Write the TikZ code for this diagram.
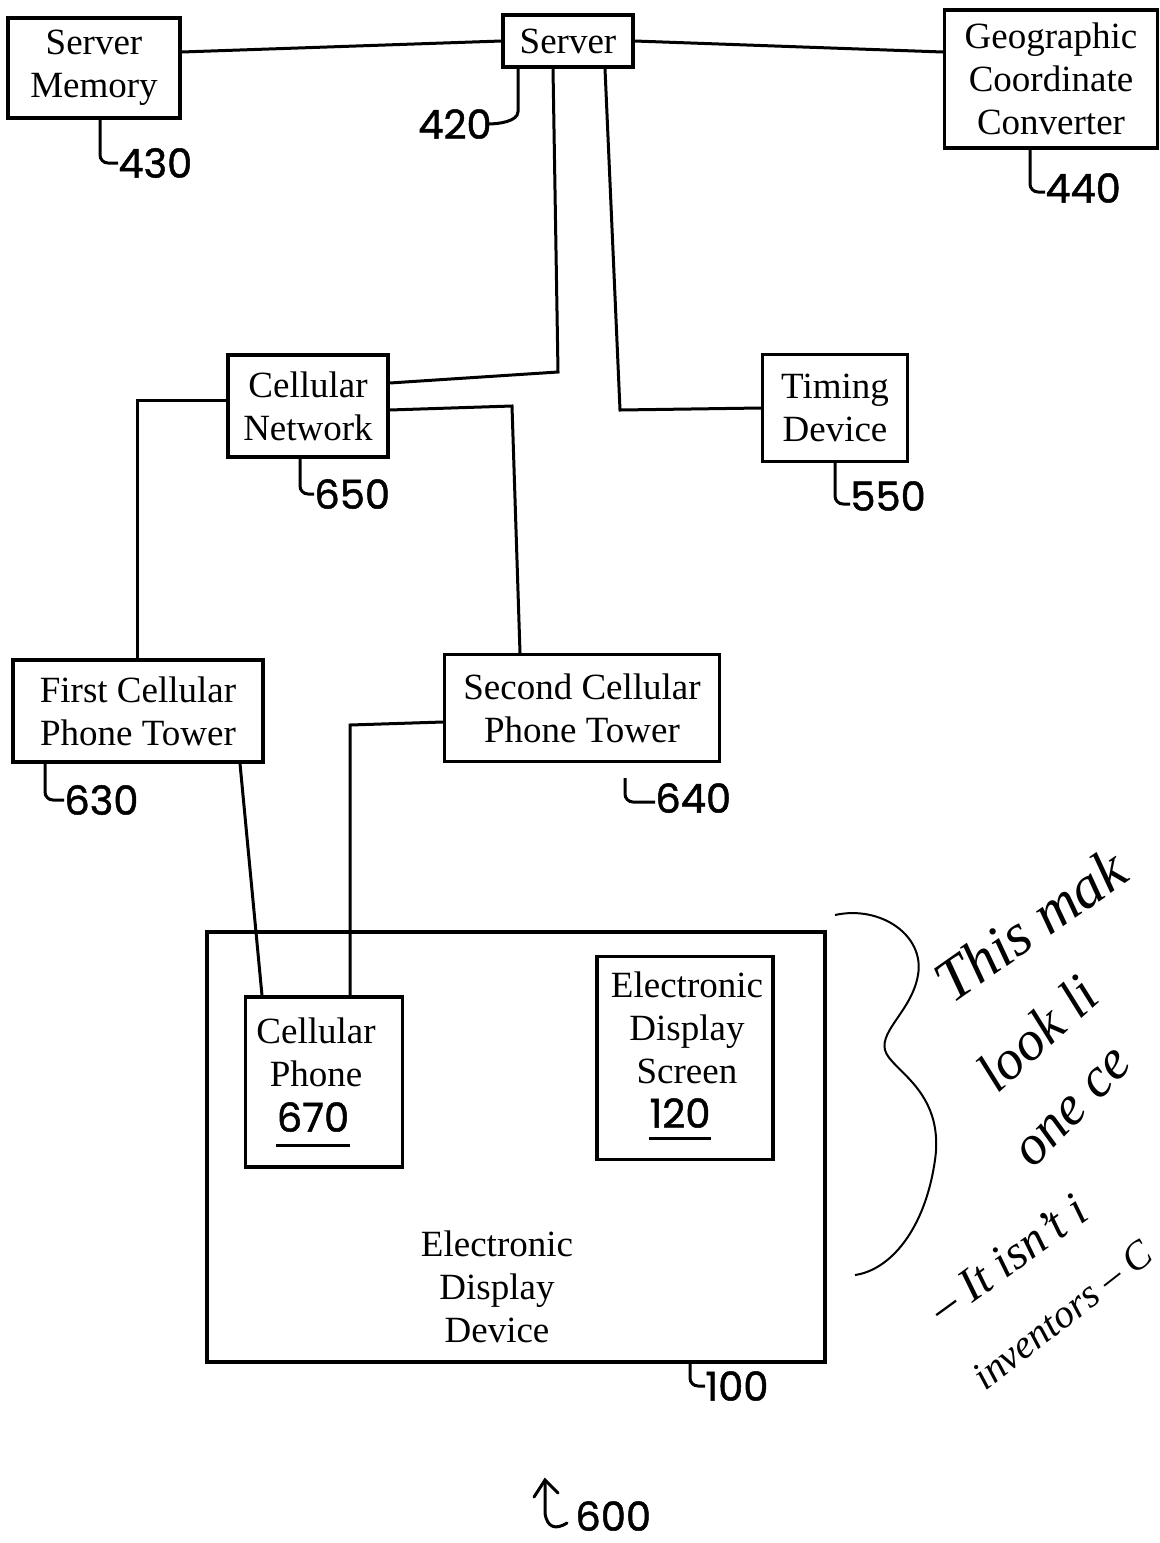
\documentclass[tikz,border=0pt]{standalone}
\usepackage{fontspec}
\setmainfont{Liberation Serif}
\newfontfamily\handfont{Poppins}[FakeBold=1.2]
\usetikzlibrary{calc}

\begin{document}
\begin{tikzpicture}[x=0.5pt,y=-0.5pt,
  blk/.style={draw,line width=1.6pt,align=center,inner sep=0pt,
    font=\fontsize{18.5}{21.5}\selectfont},
  txt/.style={align=center,inner sep=0pt,font=\fontsize{18.5}{21.5}\selectfont},
  wire/.style={line width=1.5pt},
  lead/.style={line width=1.5pt,rounded corners=4pt},
  num/.style={font=\handfont\fontsize{20}{22}\selectfont,inner sep=0pt,anchor=west},
  note/.style={font=\itshape\fontsize{#1}{#1}\selectfont,anchor=base west,inner sep=0pt}]

\useasboundingbox (0,0) rectangle (1160,1543);
\clip (0,0) rectangle (1160,1543);

% blocks
\node[blk,minimum width=86pt,minimum height=50pt] (mem) at (94,68) {Server\\Memory};
\node[blk,minimum width=65pt,minimum height=26pt] (srv) at (568,41) {Server};
\node[blk,minimum width=106.5pt,minimum height=69pt] (geo) at (1051,79) {Geographic\\Coordinate\\Converter};
\node[blk,minimum width=80pt,minimum height=51pt] (net) at (308,406) {Cellular\\Network};
\node[blk,minimum width=72.5pt,minimum height=53.5pt] (tim) at (835,408) {Timing\\Device};
\node[blk,minimum width=125pt,minimum height=51pt] (t1) at (138,711) {First Cellular\\Phone Tower};
\node[blk,minimum width=137.5pt,minimum height=53.5pt] (t2) at (582,708) {Second Cellular\\Phone Tower};

% display device and its parts
\node[blk,minimum width=309pt,minimum height=215pt] (dev) at (516,1147) {};
\node[txt] (devlbl) at (497,1287) {Electronic\\Display\\Device};
\node[blk,minimum width=78.5pt,minimum height=85pt] (ph) at (324,1082) {};
\node[txt] (phtxt) at (316,1052) {Cellular\\Phone};
\node[num,anchor=center] (n670) at (313,1117) {670};
\draw[wire] ([yshift=-6.5pt]n670.south west) -- ([yshift=-6.5pt]n670.south east);
\node[blk,minimum width=88pt,minimum height=101.5pt] (scr) at (685,1058) {};
\node[txt] (scrtxt) at (687,1028) {Electronic\\Display\\Screen};
\node[num,anchor=center] (n120) at (680,1113) {120};
\draw[wire] ([yshift=-5pt]n120.south west) -- ([yshift=-5pt]n120.south east);

% junction points
\coordinate (j1) at (558,372);
\coordinate (j2) at (620,410);
\coordinate (j3) at (512,406);
\coordinate (j4) at (350,725);

% connectors
\draw[wire] ([yshift=8pt]mem.east) -- (srv.west);
\draw[wire] (srv.east) -- ([yshift=13.5pt]geo.west);
\draw[wire] ([xshift=-7.5pt]srv.south) -- (j1) -- ([yshift=11.5pt]net.east);
\draw[wire] ([xshift=18.5pt]srv.south) -- (j2) -- (tim.west);
\draw[wire] ([xshift=-0.5pt]t1.north) |- ([yshift=3pt]net.west);
\draw[wire] ([yshift=-2pt]net.east) -- (j3) -- ([xshift=-31pt]t2.north);
\draw[wire] ([xshift=51pt]t1.south) -- ([xshift=-31pt]ph.north);
\draw[wire] ([yshift=-7pt]t2.west) -- (j4) -- ([xshift=13pt]ph.north);

% reference numerals
\node[num] (l430) at (118,163) {430};
\node[num,anchor=east] (l420) at (492,124) {420};
\node[num] (l440) at (1045,188) {440};
\node[num] (l650) at (314,494) {650};
\node[num] (l550) at (850,496) {550};
\node[num] (l630) at (64,800) {630};
\node[num] (l640) at (655,798) {640};
\node[num] (l100) at (705,1386) {100};
\node[num] (l600) at (575,1516) {600};

\coordinate (c640) at (625,778);
\coordinate (a600) at (545,1480);

% leaders
\draw[lead] ([xshift=3pt]mem.south) |- (l430.west);
\draw[lead] ([xshift=-25pt]srv.south) -- ++(0,35) .. controls +(0,18) and +(10,0) .. ([xshift=-2pt]l420.east);
\draw[lead] ([xshift=-10.5pt]geo.south) |- ([yshift=-2pt]l440.west);
\draw[lead] ([xshift=-4pt]net.south) |- (l650.west);
\draw[lead] (tim.south) |- ([yshift=-4pt]l550.west);
\draw[lead] ([xshift=-46.5pt]t1.south) |- (l630.west);
\draw[lead] (c640) |- ([yshift=-2pt]l640.west);
\draw[lead] ([xshift=87pt]dev.south) |- (l100.west);
\draw[line width=1.5pt,line cap=round] (a600) -- (545,1513) .. controls (547,1528) and (556,1530) .. (567,1523);
\draw[line width=1.5pt,line cap=round] (534,1497) -- (a600) -- (558,1493);

% brace
\draw[line width=1pt] (835,915) .. controls (880,905) and (925,935) .. (918,975)
  .. controls (912,1010) and (880,1030) .. (885,1050)
  .. controls (890,1070) and (945,1090) .. (935,1160)
  .. controls (925,1230) and (890,1270) .. (855,1275);

% handwritten note
\node[note=30,rotate=35] (w1) at (952,1005) {This mak};
\node[note=28,rotate=42] (w2) at (997,1095) {look li};
\node[note=28,rotate=46] (w3) at (1033,1170) {one ce};
\node[note=24,rotate=36] (w4) at (943,1325) {– It isn't i};
\node[note=20,rotate=38] (w5) at (985,1392) {inventors – C};
\end{tikzpicture}
\end{document}
